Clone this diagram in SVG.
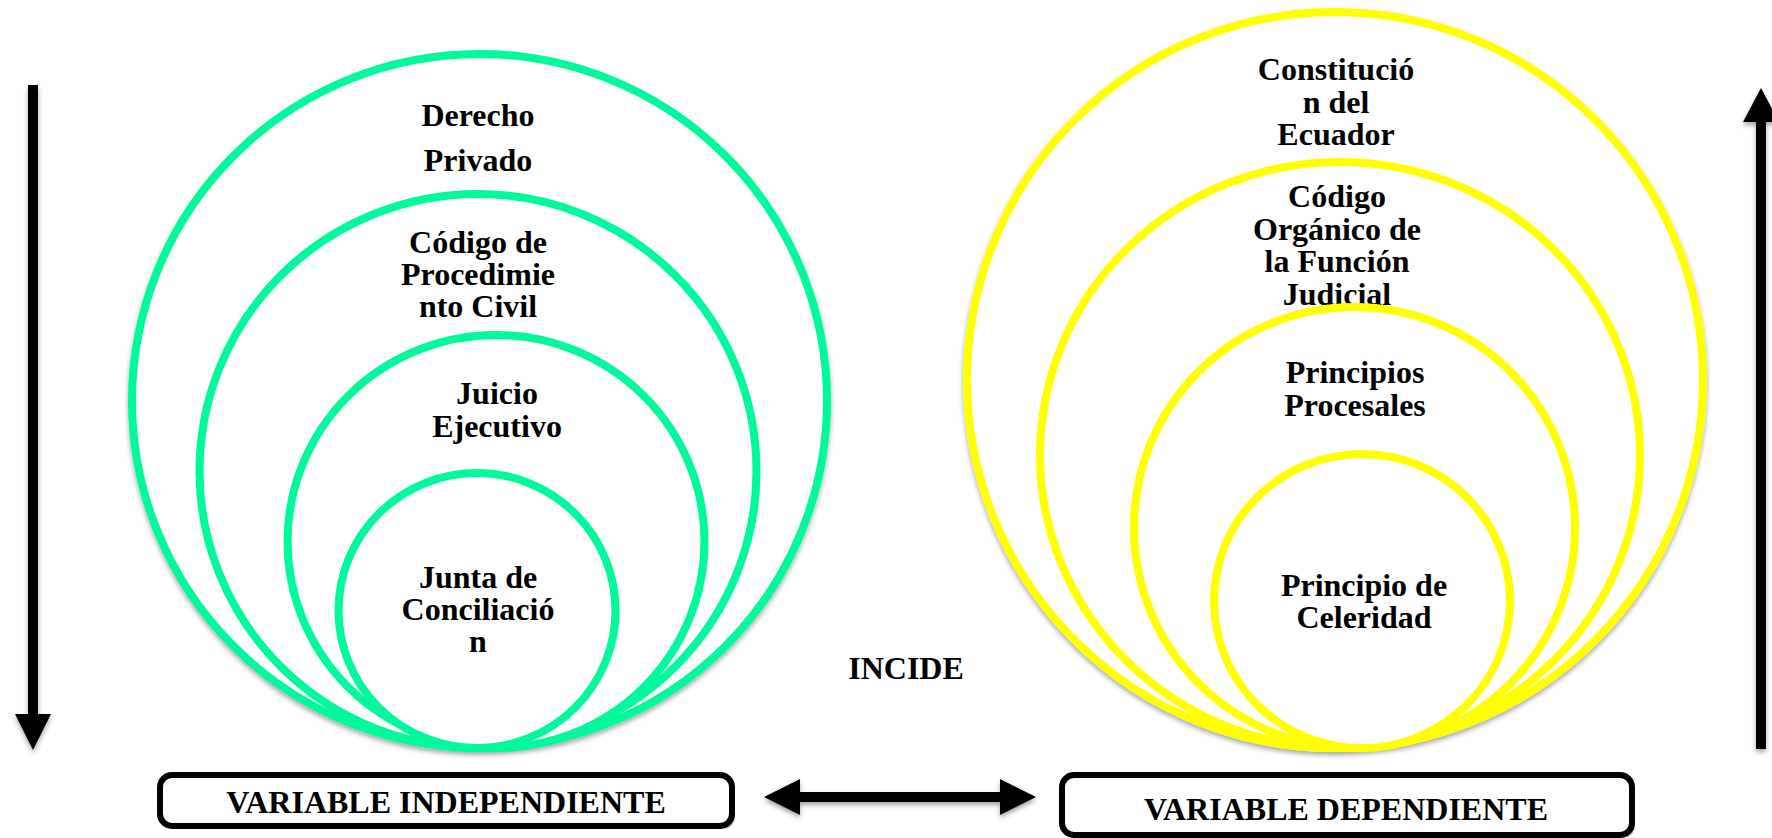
<svg xmlns="http://www.w3.org/2000/svg" width="1772" height="838" viewBox="0 0 1772 838">
<defs>
<style>
.g{fill:#fff;stroke:#00F99A;stroke-width:8}
.y{fill:#fff;stroke:#FFFF00;stroke-width:8}
text{font-family:"Liberation Serif","Times New Roman",serif;font-weight:bold;font-size:32px;fill:#000;text-anchor:middle}
.box{fill:#fff;stroke:#000;stroke-width:6}
.arr{fill:#000}
</style>
<filter id="sh" x="-10%" y="-10%" width="120%" height="130%">
<feDropShadow dx="0" dy="3" stdDeviation="2.5" flood-color="#000" flood-opacity="0.35"/>
</filter>
</defs>
<rect width="1772" height="838" fill="#fff"/>

<g id="derecho-privado">
<ellipse class="g" cx="479.5" cy="401" rx="347.5" ry="347" filter="url(#sh)"/>
<text x="478" y="126">Derecho</text>
<text x="478" y="171">Privado</text>
</g>
<g id="codigo-procedimiento-civil">
<ellipse class="g" cx="478" cy="471" rx="278.5" ry="277"/>
<text x="478" y="253">Código de</text>
<text x="478" y="285">Procedimie</text>
<text x="478" y="317">nto Civil</text>
</g>
<g id="juicio-ejecutivo">
<ellipse class="g" cx="496" cy="541.5" rx="208.5" ry="206.5"/>
<text x="497" y="404">Juicio</text>
<text x="497" y="437">Ejecutivo</text>
</g>
<g id="junta-conciliacion">
<ellipse class="g" cx="477" cy="610.5" rx="138.5" ry="137.5"/>
<text x="478" y="588">Junta de</text>
<text x="478" y="620">Conciliació</text>
<text x="478" y="652">n</text>
</g>

<g id="constitucion">
<ellipse class="y" cx="1335" cy="380" rx="368" ry="368" filter="url(#sh)"/>
<text x="1336" y="80">Constitució</text>
<text x="1336" y="113">n del</text>
<text x="1336" y="145">Ecuador</text>
</g>
<g id="codigo-organico">
<ellipse class="y" cx="1340" cy="455" rx="300" ry="293"/>
<text x="1337" y="207">Código</text>
<text x="1337" y="240">Orgánico de</text>
<text x="1337" y="272">la Función</text>
<text x="1337" y="305">Judicial</text>
</g>
<g id="principios-procesales">
<ellipse class="y" cx="1354.5" cy="527.5" rx="220.5" ry="220.5"/>
<text x="1355" y="383">Principios</text>
<text x="1355" y="416">Procesales</text>
</g>
<g id="principio-celeridad">
<ellipse class="y" cx="1362" cy="601" rx="148" ry="147"/>
<text x="1364" y="596">Principio de</text>
<text x="1364" y="628">Celeridad</text>
</g>

<g id="incide">
<text x="906" y="679">INCIDE</text>
</g>

<g id="variable-independiente">
<rect x="163" y="778" width="572" height="51" rx="12" fill="#333" opacity="0.35"/>
<rect class="box" x="160" y="775" width="572" height="51" rx="12"/>
<text x="446" y="813">VARIABLE INDEPENDIENTE</text>
</g>
<g id="variable-dependiente">
<rect x="1065" y="778" width="570" height="60" rx="12" fill="#333" opacity="0.35"/>
<rect class="box" x="1062" y="775" width="570" height="60" rx="12"/>
<text x="1346" y="820">VARIABLE DEPENDIENTE</text>
</g>

<g id="connectors" filter="url(#sh)">
<polygon class="arr" points="28,85 38,85 38,714 51,714 33,750 15,714 28,714"/>
<polygon class="arr" points="1756,749 1766,749 1766,122 1779,122 1761,88 1743,122 1756,122"/>
<polygon class="arr" points="764,797 800,779 800,792 1000,792 1000,779 1036,797 1000,815 1000,802 800,802 800,815"/>
</g>
</svg>
